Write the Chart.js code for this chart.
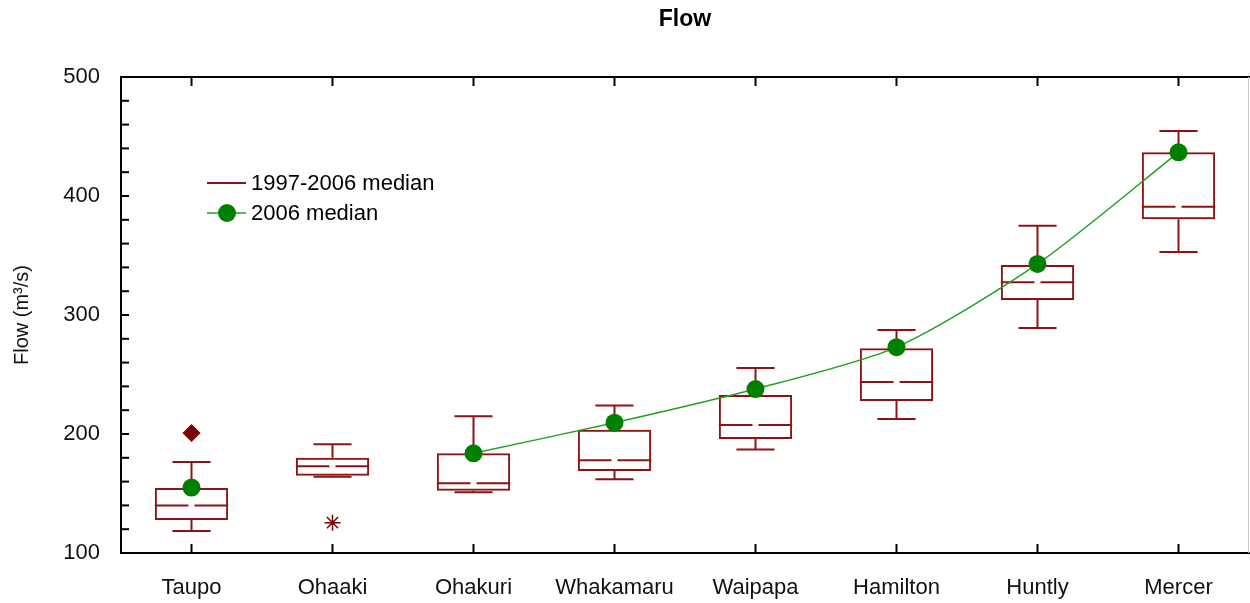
<!DOCTYPE html>
<html>
<head>
<meta charset="utf-8">
<script src="https://cdn.jsdelivr.net/npm/chart.js@4"></script>
<style>
  html, body { margin: 0; padding: 0; background: #fff; }
  #wrap { width: 1250px; height: 603px; }
</style>
</head>
<body>
<div id="wrap"><canvas id="flowChart"></canvas></div>
<script>
// DATA

const categories = ["Taupo", "Ohaaki", "Ohakuri", "Whakamaru", "Waipapa", "Hamilton", "Huntly", "Mercer"];
const whiskerLow = [118.5, 164, 151, 162, 187, 212.6, 289, 353];
const boxLow = [127.7, 165, 152.4, 169, 195.8, 227.7, 312.6, 380.4];
const medians = [140, 173, 158.6, 178, 207.6, 243.7, 327.5, 391];
const boxHigh = [154.6, 180.1, 183.8, 203.6, 232.8, 272, 342, 436.7];
const whiskerHigh = [176.5, 191.3, 215, 224, 255.5, 287.4, 375, 454.6];
const median2006 = [155, null, 183.8, 209.5, 237.8, 273, 342.9, 436.7];
const outliers = [200.8, 125.5, null, null, null, null, null, null];
const outlierStyles = ["rectRot", "star", "circle", "circle", "circle", "circle", "circle", "circle"];

const boxColor = "#8c1414";
const greenLine = "#22a022";
const greenDot = "#008000";
const font = "Liberation Sans, Arial, sans-serif";

// BOX EXTRAS: whiskers, medians, frame, legend, title

const boxExtras = {
  id: "boxExtras",
  afterDatasetDraw(chart, args) {
    if (args.index !== 0) return;
    const ctx = chart.ctx;
    const y = chart.scales.y;
    const meta = chart.getDatasetMeta(0);
    ctx.save();
    ctx.strokeStyle = boxColor;
    ctx.lineWidth = 2;
    const seg = (x1, y1, x2, y2) => {
      ctx.beginPath();
      ctx.moveTo(x1, y1);
      ctx.lineTo(x2, y2);
      ctx.stroke();
    };
    meta.data.forEach((bar, i) => {
      const cx = bar.x;
      const half = bar.width / 2;
      const cap = bar.width * 0.26;
      const yLo = y.getPixelForValue(whiskerLow[i]);
      const yBl = y.getPixelForValue(boxLow[i]);
      const yBh = y.getPixelForValue(boxHigh[i]);
      const yHi = y.getPixelForValue(whiskerHigh[i]);
      const yMed = y.getPixelForValue(medians[i]);
      seg(cx, yBl, cx, yLo);
      seg(cx - cap, yLo, cx + cap, yLo);
      seg(cx, yBh, cx, yHi);
      seg(cx - cap, yHi, cx + cap, yHi);
      seg(cx - half, yMed, cx - 3, yMed);
      seg(cx + 3, yMed, cx + half, yMed);
    });
    ctx.restore();
  },
  afterDraw(chart) {
    const ctx = chart.ctx;
    const a = chart.chartArea;
    const x = chart.scales.x;
    const y = chart.scales.y;
    ctx.save();

    // frame
    ctx.strokeStyle = "#000";
    ctx.lineWidth = 2;
    ctx.beginPath();
    ctx.moveTo(a.left, a.top);
    ctx.lineTo(a.right + 1, a.top);
    ctx.stroke();
    ctx.strokeStyle = "#ccc";
    ctx.lineWidth = 1;
    ctx.beginPath();
    ctx.moveTo(a.right - 0.5, a.top);
    ctx.lineTo(a.right - 0.5, a.bottom);
    ctx.stroke();

    // inward ticks
    ctx.strokeStyle = "#000";
    ctx.lineWidth = 2;
    y.ticks.forEach((t) => {
      const py = y.getPixelForValue(t.value);
      ctx.beginPath();
      ctx.moveTo(a.left, py);
      ctx.lineTo(a.left + 8, py);
      ctx.stroke();
    });
    categories.forEach((c, i) => {
      const px = x.getPixelForValue(i);
      ctx.beginPath();
      ctx.moveTo(px, a.bottom);
      ctx.lineTo(px, a.bottom - 9);
      ctx.moveTo(px, a.top);
      ctx.lineTo(px, a.top + 9);
      ctx.stroke();
    });

    // title
    ctx.fillStyle = "#000";
    ctx.font = "bold 23px " + font;
    ctx.textAlign = "center";
    ctx.textBaseline = "middle";
    ctx.fillText("Flow", (a.left + a.right) / 2, 20);

    // legend
    const lx = a.left + 86;
    ctx.font = "22px " + font;
    ctx.textAlign = "left";
    ctx.strokeStyle = boxColor;
    ctx.lineWidth = 2;
    ctx.beginPath();
    ctx.moveTo(lx, 183);
    ctx.lineTo(lx + 39, 183);
    ctx.stroke();
    ctx.fillText("1997-2006 median", lx + 44, 184);
    ctx.strokeStyle = greenLine;
    ctx.lineWidth = 1.5;
    ctx.beginPath();
    ctx.moveTo(lx, 213);
    ctx.lineTo(lx + 39, 213);
    ctx.stroke();
    ctx.fillStyle = greenDot;
    ctx.beginPath();
    ctx.arc(lx + 20, 213, 9, 0, Math.PI * 2);
    ctx.fill();
    ctx.fillStyle = "#000";
    ctx.fillText("2006 median", lx + 44, 214);
    ctx.restore();
  },
};

// CHART

const ctxFlow = document.getElementById("flowChart");

new Chart(ctxFlow, {
  data: {
    labels: categories,
    datasets: [
      {
        type: "bar",
        label: "1997-2006 median",
        data: categories.map((c, i) => [boxLow[i], boxHigh[i]]),
        backgroundColor: "rgba(0,0,0,0)",
        borderColor: boxColor,
        borderWidth: 2,
        borderSkipped: false,
        barPercentage: 0.52,
        categoryPercentage: 1,
        order: 3,
      },
      {
        type: "line",
        label: "outliers",
        data: outliers,
        showLine: false,
        pointStyle: outlierStyles,
        pointRadius: 8,
        pointBackgroundColor: "#800000",
        pointBorderColor: "#800000",
        pointBorderWidth: 1.5,
        order: 2,
      },
      {
        type: "line",
        label: "2006 median",
        data: median2006,
        borderColor: greenLine,
        borderWidth: 1.5,
        tension: 0.25,
        spanGaps: false,
        pointRadius: 9,
        pointBackgroundColor: greenDot,
        pointBorderWidth: 0,
        order: 1,
      },
    ],
  },
  options: {
    responsive: true,
    maintainAspectRatio: false,
    animation: false,
    layout: {
      autoPadding: false,
      padding: { top: 77, right: 1, bottom: 0, left: 0 },
    },
    scales: {
      x: {
        offset: true,
        grid: { display: false, drawTicks: false },
        border: { display: true, color: "#000", width: 2 },
        ticks: {
          color: "#111",
          font: { family: font, size: 22 },
          padding: 22,
          maxRotation: 0,
        },
        afterFit(scale) {
          scale.height = 50;
          scale.paddingLeft = 0;
          scale.paddingRight = 0;
        },
      },
      y: {
        min: 100,
        max: 500,
        grid: { display: false, drawTicks: false },
        border: { display: true, color: "#000", width: 2 },
        ticks: {
          stepSize: 20,
          autoSkip: false,
          color: "#111",
          font: { family: font, size: 22 },
          padding: 21,
          callback: (v) => (v % 100 === 0 ? v : ""),
        },
        title: {
          display: true,
          text: "Flow (m³/s)",
          color: "#111",
          font: { family: font, size: 20 },
          padding: { top: 10, bottom: 0 },
        },
        afterFit(scale) {
          scale.width = 121;
        },
      },
    },
    plugins: {
      legend: { display: false },
      tooltip: { enabled: false },
    },
  },
  plugins: [boxExtras],
});
</script>
</body>
</html>
